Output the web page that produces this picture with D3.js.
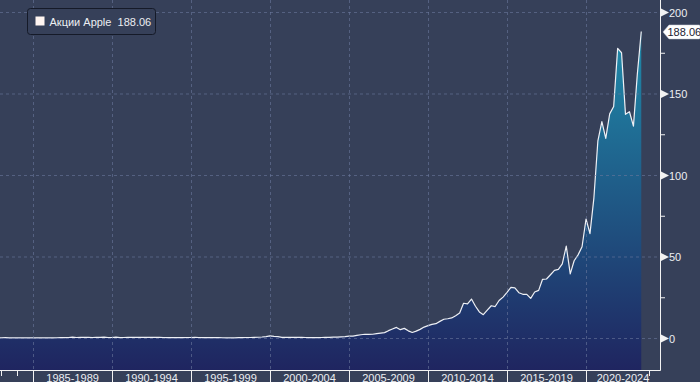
<!DOCTYPE html>
<html>
<head>
<meta charset="utf-8">
<script src="https://cdn.jsdelivr.net/npm/d3@7/dist/d3.min.js"></script>
<style>
  html, body { margin: 0; padding: 0; background: #364059; }
  svg { display: block; font-family: "Liberation Sans", Arial, sans-serif; }
</style>
</head>
<body>
<svg id="chart"></svg>
<script>
// quarterly closes, split-adjusted, starting Q4 1982
const firstQuarter = "1982-10-01";
const prices = [
  0.10,
  0.15, 0.18, 0.12, 0.08,
  0.10, 0.09, 0.10, 0.09,
  0.08, 0.07, 0.06, 0.08,
  0.10, 0.12, 0.14, 0.17,
  0.25, 0.30, 0.55, 0.32,
  0.35, 0.38, 0.38, 0.32,
  0.35, 0.38, 0.55, 0.30,
  0.30, 0.50, 0.25, 0.30,
  0.45, 0.42, 0.35, 0.42,
  0.45, 0.40, 0.35, 0.45,
  0.40, 0.30, 0.20, 0.22,
  0.28, 0.22, 0.27, 0.30,
  0.30, 0.45, 0.30, 0.28,
  0.22, 0.20, 0.17, 0.20,
  0.15, 0.13, 0.12, 0.10,
  0.20, 0.25, 0.30, 0.30,
  0.40, 0.45, 0.60, 0.90,
  1.30, 1.00, 0.80, 0.40,
  0.40, 0.45, 0.35, 0.40,
  0.42, 0.30, 0.28, 0.26,
  0.27, 0.30, 0.38, 0.40,
  0.50, 0.55, 0.70, 0.90,
  1.2, 1.2, 1.6, 2.0,
  2.3, 2.2, 2.3, 2.7,
  3.0, 3.3, 4.5, 5.5,
  6.5, 5.1, 5.9, 4.4,
  3.4, 4.2, 5.3, 6.7,
  7.6, 8.4, 8.8, 10.2,
  11.5, 11.8, 12.3, 13.7,
  15.3, 21.3, 20.9, 23.9,
  19.5, 16.0, 14.3, 17.1,
  19.8, 19.3, 23.0, 25.1,
  28.0, 31.1, 30.8, 27.8,
  26.8, 26.8, 24.3, 28.2,
  29.2, 36.0, 36.2, 38.8,
  41.5, 42.1, 45.5, 56.4,
  39.3, 47.4, 51.0, 56.0,
  73.0, 64.0, 86.0, 121.0,
  132.7, 122.5, 137.5, 142.0,
  177.7, 175.0, 137.2, 138.8,
  130.0, 162.0, 188.06
];
const seriesName = "Акции Apple";
const lastLabel = "188.06";
const yMajorTicks = [0, 50, 100, 150, 200];
const yMinorTicks = [25, 75, 125, 175];
const periodStarts = [1985, 1990, 1995, 2000, 2005, 2010, 2015, 2020];
const periodLabels = ["1985-1989", "1990-1994", "1995-1999", "2000-2004",
                      "2005-2009", "2010-2014", "2015-2019", "2020-2024"];
const yearTicks = [1983, 1984, 2024];

const width = 700, height = 382;
const plotW = 660, plotH = 370;

const svg = d3.select("#chart").attr("width", width).attr("height", height);

const start = new Date(firstQuarter);
const data = prices.map((v, i) => ({ date: d3.timeMonth.offset(start, i * 3), value: v }));

const x = d3.scaleTime()
  .domain([new Date("1982-11-28"), new Date("2024-09-06")])
  .range([0, plotW]);
const y = d3.scaleLinear().domain([0, 200]).range([338, 12]);
const xPos = yr => Math.round(x(new Date(yr, 0, 1))) + 0.5;

const defs = svg.append("defs");
const grad = defs.append("linearGradient")
  .attr("id", "fill").attr("gradientUnits", "userSpaceOnUse")
  .attr("x1", 0).attr("x2", 0).attr("y1", y(188)).attr("y2", plotH);
grad.append("stop").attr("offset", 0).attr("stop-color", "#1f8cab");
grad.append("stop").attr("offset", 1).attr("stop-color", "#1f2560");
defs.append("clipPath").attr("id", "clip")
  .append("rect").attr("width", plotW).attr("height", plotH);

// area + line
const plot = svg.append("g").attr("clip-path", "url(#clip)");
plot.append("path").datum(data)
  .attr("fill", "url(#fill)")
  .attr("d", d3.area().x(d => x(d.date)).y0(plotH).y1(d => y(d.value)));

// grid (drawn over the fill, faint)
const grid = svg.append("g").attr("stroke", "#6b789c").attr("stroke-opacity", 0.6)
  .attr("stroke-dasharray", "3,3");
grid.selectAll("line.h").data(yMajorTicks).join("line")
  .attr("x1", 0).attr("x2", plotW).attr("y1", d => y(d) + 0.5).attr("y2", d => y(d) + 0.5);
grid.selectAll("line.v").data(periodStarts).join("line")
  .attr("x1", xPos).attr("x2", xPos)
  .attr("y1", 0).attr("y2", plotH);

plot.append("path").datum(data)
  .attr("fill", "none").attr("stroke", "#eef0f5").attr("stroke-width", 1.2)
  .attr("stroke-linejoin", "round")
  .attr("d", d3.line().x(d => x(d.date)).y(d => y(d.value)));

// axes frame
const axisColor = "#f2f2f2";
svg.append("line").attr("x1", plotW + 0.5).attr("x2", plotW + 0.5).attr("y1", 0).attr("y2", plotH + 0.5)
  .attr("stroke", axisColor);
svg.append("line").attr("x1", 0).attr("x2", plotW + 0.5).attr("y1", plotH + 0.5).attr("y2", plotH + 0.5)
  .attr("stroke", axisColor);

// right axis
const yAxis = svg.append("g").attr("transform", `translate(${plotW},0)`);
yAxis.selectAll("path.tri").data(yMajorTicks).join("path")
  .attr("fill", axisColor)
  .attr("d", d => `M1,${y(d) - 3.5}L9,${y(d) + 0.5}L1,${y(d) + 4.5}Z`);
yAxis.selectAll("line.minor").data(yMinorTicks).join("line")
  .attr("stroke", axisColor).attr("x1", 0).attr("x2", 5)
  .attr("y1", d => y(d) + 0.5).attr("y2", d => y(d) + 0.5);
yAxis.selectAll("text").data(yMajorTicks).join("text")
  .attr("x", 9).attr("y", d => y(d) + 4.5)
  .attr("fill", "#eceef2").attr("font-size", 11)
  .text(d => d);

// last value tag
const ly = y(prices[prices.length - 1]) + 0.5;
const tag = svg.append("g").attr("transform", `translate(${plotW + 3},${ly})`);
tag.append("path")
  .attr("d", "M0,0L6,-7H36Q37,-7 37,-6V6Q37,7 36,7H6Z")
  .attr("fill", "#ffffff").attr("stroke", "#c8ccd6").attr("stroke-width", 0.5);
tag.append("text").attr("x", 4.5).attr("y", 4).attr("font-size", 11).attr("fill", "#1c2233")
  .text(lastLabel);

// bottom axis
const xAxis = svg.append("g").attr("transform", `translate(0,${plotH})`);
xAxis.selectAll("line.major").data(periodStarts).join("line")
  .attr("stroke", axisColor)
  .attr("x1", xPos).attr("x2", xPos)
  .attr("y1", 0).attr("y2", 12);
xAxis.selectAll("line.minor").data(yearTicks).join("line")
  .attr("stroke", axisColor)
  .attr("x1", xPos).attr("x2", xPos)
  .attr("y1", 0).attr("y2", 6);
xAxis.selectAll("text").data(periodLabels).join("text")
  .attr("x", (d, i) => {
    const a = x(new Date(periodStarts[i], 0, 1));
    const b = i < periodStarts.length - 1 ? x(new Date(periodStarts[i + 1], 0, 1)) : plotW;
    return (a + b) / 2;
  })
  .attr("y", 11.5).attr("text-anchor", "middle")
  .attr("fill", "#eceef2").attr("font-size", 11)
  .text(d => d);

// legend
const legend = svg.append("g").attr("transform", "translate(27.5,8.5)");
legend.append("rect").attr("width", 128).attr("height", 26).attr("rx", 3)
  .attr("fill", "#364059").attr("stroke", "#151a28").attr("stroke-width", 1);
legend.append("rect").attr("x", 8).attr("y", 8).attr("width", 9).attr("height", 9)
  .attr("fill", "#fff5f2");
legend.append("text").attr("x", 22).attr("y", 17).attr("font-size", 11)
  .attr("fill", "#eceef2").attr("xml:space", "preserve")
  .text(seriesName + "  " + lastLabel);
</script>
</body>
</html>
